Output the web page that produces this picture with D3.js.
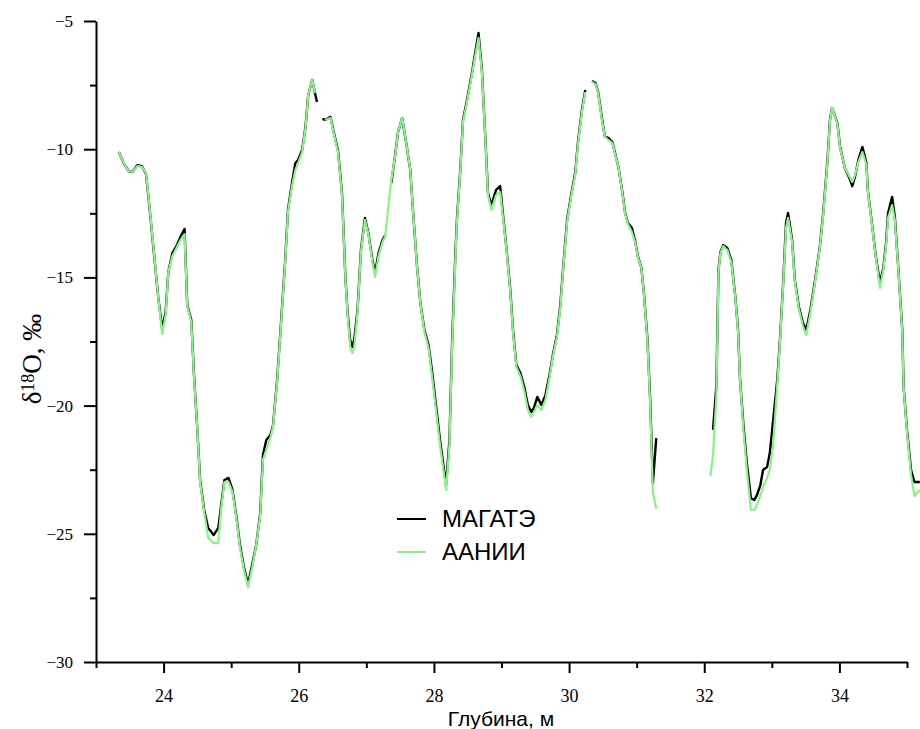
<!DOCTYPE html>
<html>
<head>
<meta charset="utf-8">
<script src="https://cdn.jsdelivr.net/npm/d3@7"></script>
<style>
  body { margin: 0; background: #fff; }
</style>
</head>
<body>
<div id="chart"></div>
<script>
// depth, m
var depth = [23.34,23.40,23.48,23.54,23.61,23.68,23.74,23.80,23.86,23.92,23.98,24.03,24.07,24.13,24.19,24.25,24.31,24.35,24.41,24.45,
  24.50,24.54,24.60,24.66,24.74,24.81,24.85,24.90,24.96,25.02,25.08,25.13,25.19,25.25,25.31,25.37,25.43,25.47,25.52,25.58,
  25.62,25.68,25.74,25.80,25.84,25.90,25.95,25.99,26.05,26.10,26.14,26.20,26.24,26.27,26.30,26.35,26.39,26.47,26.51,26.58,
  26.64,26.69,26.72,26.76,26.79,26.82,26.87,26.92,26.98,27.03,27.09,27.13,27.18,27.24,27.28,27.32,27.37,27.43,27.47,27.53,
  27.59,27.65,27.69,27.75,27.80,27.86,27.92,27.97,28.03,28.09,28.14,28.18,28.23,28.27,28.32,28.34,28.39,28.43,28.49,28.57,
  28.61,28.66,28.71,28.76,28.80,28.85,28.92,28.98,29.03,29.08,29.13,29.17,29.22,29.28,29.34,29.39,29.44,29.48,29.53,29.59,
  29.65,29.71,29.76,29.82,29.87,29.91,29.97,30.03,30.09,30.13,30.19,30.24,30.28,30.34,30.39,30.43,30.49,30.53,30.58,30.64,
  30.68,30.73,30.79,30.83,30.87,30.93,30.98,31.02,31.07,31.11,31.16,31.20,31.24,31.29,31.69,32.09,32.13,32.18,32.21,32.24,
  32.28,32.34,32.40,32.46,32.50,32.53,32.58,32.63,32.69,32.74,32.78,32.83,32.87,32.93,32.97,33.02,33.08,33.12,33.17,33.21,
  33.24,33.30,33.34,33.40,33.46,33.51,33.57,33.64,33.71,33.76,33.82,33.86,33.89,33.97,34.01,34.08,34.16,34.19,34.23,34.28,
  34.34,34.40,34.42,34.48,34.54,34.60,34.65,34.69,34.72,34.78,34.82,34.87,34.93,34.95,35.00,35.06,35.11,35.19];

// МАГАТЭ, d18O permil
var magate = [-10.11,-10.50,-10.85,-10.89,-10.62,-10.66,-10.97,-12.49,-14.13,-15.76,-17.01,-16.35,-14.79,-14.05,-13.78,-13.42,-13.11,-16.08,-16.66,-18.81,
  -20.95,-22.90,-24.07,-24.77,-25.05,-24.77,-23.92,-22.90,-22.82,-23.29,-24.38,-25.44,-26.33,-26.96,-26.22,-25.44,-24.19,-21.93,-21.34,-21.15,
  -20.76,-19.00,-16.66,-14.32,-12.37,-11.32,-10.54,-10.42,-10.03,-9.13,-7.89,-7.30,-7.81,-8.16,null,-8.82,-8.86,-8.74,-9.25,-10.03,
  -11.71,-14.98,-16.27,-17.44,-17.71,-17.44,-16.27,-13.93,-12.68,-13.27,-14.32,-14.83,-14.05,-13.54,-13.35,null,-11.32,-10.15,-9.33,-8.78,
  -9.76,-10.81,-12.37,-14.56,-16.00,-17.05,-17.64,-18.61,-19.98,-21.34,-22.32,-23.10,-21.34,-17.44,-13.93,-12.76,-10.81,-8.86,-8.08,-6.91,
  -6.25,-5.47,-6.91,-9.52,-11.71,-12.18,-11.59,-11.44,-12.76,-14.05,-15.49,-17.05,-18.42,-18.73,-19.31,-19.98,-20.25,-20.09,-19.66,-19.98,
  -19.59,-18.81,-18.03,-17.25,-16.08,-14.71,-12.76,-11.79,-10.93,-9.76,-8.47,-7.69,null,-7.34,-7.42,-7.77,-8.86,-9.52,-9.56,-9.72,
  -10.15,-10.69,-11.71,-12.49,-12.88,-13.07,-13.62,-14.20,-14.63,-15.69,-17.44,-19.78,-23.02,-21.27,null,null,-20.95,-19.20,-14.71,-14.01,
  -13.74,-13.85,-14.32,-15.76,-17.05,-19.00,-20.76,-22.24,-23.60,-23.68,-23.49,-23.10,-22.51,-22.39,-21.85,-20.56,-19.00,-17.44,-15.10,-12.88,
  -12.49,-13.54,-15.10,-16.15,-16.78,-17.05,-16.27,-15.10,-13.81,-12.49,-10.54,-8.86,-8.39,-8.98,-9.91,-10.73,-11.20,-11.44,-11.08,-10.42,
  -9.91,-10.54,-11.59,-12.88,-14.20,-15.22,-14.63,-13.66,-12.49,-11.86,-12.64,-14.59,-17.05,-19.27,-20.95,-22.51,-22.98,-22.98];

// ААНИИ, d18O permil
var aanii = [-10.11,-10.50,-10.85,-10.89,-10.66,-10.69,-10.93,-12.45,-14.09,-15.76,-17.21,-16.47,-14.79,-14.17,-13.85,-13.54,-13.31,-16.12,-16.74,-18.88,
  -20.95,-22.98,-24.15,-25.16,-25.36,-25.36,-24.07,-22.98,-22.98,-23.37,-24.46,-25.55,-26.41,-27.08,-26.33,-25.44,-24.27,-22.12,-21.73,-21.27,
  -20.80,-19.08,-16.74,-14.40,-12.45,-11.44,-10.81,-10.54,-10.11,-9.17,-7.89,-7.30,-7.81,null,null,null,-8.86,-8.78,-9.29,-10.11,
  -11.79,-15.02,-16.35,-17.68,-17.95,-17.75,-16.35,-14.01,-12.76,-13.31,-14.40,-14.98,-14.17,-13.62,-13.39,-12.37,-11.20,-10.19,-9.33,-8.78,
  -9.76,-10.81,-12.37,-14.59,-16.00,-17.13,-17.75,-18.81,-20.17,-21.54,-22.51,-23.29,-21.54,-17.64,-14.13,-12.84,-10.89,-8.94,-8.16,-6.99,
  -6.37,-5.66,-6.99,-9.56,-11.79,-12.37,-11.79,-11.67,-12.84,-14.09,-15.57,-17.13,-18.49,-18.85,-19.47,-20.17,-20.44,-20.25,-19.98,-20.17,
  -19.78,-18.92,-18.10,-17.32,-16.19,-14.79,-12.84,-11.86,-11.01,-9.84,-8.55,-7.77,null,-7.38,-7.46,-7.81,-8.94,-9.52,-9.64,-9.76,
  -10.19,-10.69,-11.75,-12.53,-12.92,-13.23,-13.66,-14.24,-14.63,-15.73,-17.52,-19.98,-23.37,-24.03,null,-22.75,-21.93,-19.59,-14.79,-14.05,
  -13.78,-13.93,-14.40,-15.80,-17.13,-19.00,-20.95,-22.51,-24.07,-24.07,-23.88,-23.49,-23.17,-22.82,-22.51,-21.54,-19.20,-17.52,-15.18,-13.07,
  -12.68,-13.62,-15.18,-16.23,-16.90,-17.25,-16.39,-15.18,-13.85,-12.57,-10.62,-8.90,-8.39,-9.02,-9.95,-10.73,-11.12,-11.28,-11.01,-10.50,
  -10.11,-10.62,-11.63,-12.92,-14.24,-15.41,-14.71,-13.78,-12.68,-12.18,-12.76,-14.63,-17.13,-19.31,-21.03,-22.71,-23.53,-23.29];

var xMajor = [24, 26, 28, 30, 32, 34];
var xMinor = [23, 25, 27, 29, 31, 33, 35];
var yMajor = [-5, -10, -15, -20, -25, -30];
var yMinor = [-7.5, -12.5, -17.5, -22.5, -27.5];
var seriesNames = ["МАГАТЭ", "ААНИИ"];

var width = 920, height = 729;
var green = "#8af28a";
var serif = "'Liberation Serif', 'Times New Roman', serif";
var sans = "'Liberation Sans', Arial, sans-serif";

var svg = d3.select("#chart").append("svg")
    .attr("width", width)
    .attr("height", height)
    .style("display", "block");

var x = d3.scaleLinear().domain([23, 35]).range([96, 907]);
var y = d3.scaleLinear().domain([-5, -30]).range([21, 662]);

var minus = function (d) { return d < 0 ? "\u2212" + Math.abs(d) : String(d); };

// lines first, axes on top
function series(vals) {
  return depth.map(function (d, i) { return { d: d, v: vals[i] }; });
}
var line = d3.line()
    .defined(function (p) { return p.v != null; })
    .x(function (p) { return x(p.d); })
    .y(function (p) { return y(p.v); });

svg.append("path")
    .datum(series(magate))
    .attr("fill", "none")
    .attr("stroke", "#000")
    .attr("stroke-width", 2.4)
    .attr("stroke-linejoin", "round")
    .attr("d", line);

svg.append("path")
    .datum(series(aanii))
    .attr("fill", "none")
    .attr("stroke", green)
    .attr("stroke-width", 2.2)
    .attr("stroke-linejoin", "round")
    .attr("d", line);

// y axis
var gy = svg.append("g").attr("transform", "translate(96,0)");
gy.call(d3.axisLeft(y).tickValues(yMajor).tickSize(12).tickSizeOuter(0).tickPadding(11).tickFormat(minus));
svg.append("g").attr("transform", "translate(96,0)")
    .call(d3.axisLeft(y).tickValues(yMinor).tickSize(6).tickSizeOuter(0).tickFormat(""))
    .select(".domain").remove();

// x axis
var gx = svg.append("g").attr("transform", "translate(0,662)");
gx.call(d3.axisBottom(x).tickValues(xMajor).tickSize(11).tickSizeOuter(0).tickPadding(16).tickFormat(d3.format("d")));
svg.append("g").attr("transform", "translate(0,662)")
    .call(d3.axisBottom(x).tickValues(xMinor).tickSize(6).tickSizeOuter(0).tickFormat(""))
    .select(".domain").remove();

svg.selectAll(".domain, .tick line").attr("stroke", "#000").attr("stroke-width", 2);
gy.attr("font-family", serif).attr("font-size", 17);
gx.attr("font-family", serif).attr("font-size", 18);
svg.selectAll(".tick text").attr("fill", "#000");

// axis titles
var yt = svg.append("text")
    .attr("transform", "translate(41,359) rotate(-90)")
    .attr("text-anchor", "middle")
    .attr("font-family", serif)
    .attr("font-size", 27)
    .attr("fill", "#000");
yt.append("tspan").text("δ");
yt.append("tspan").attr("dy", "-0.4em").attr("font-size", 18).text("18");
yt.append("tspan").attr("dy", "0.27em").text("O, ‰");

svg.append("text")
    .attr("x", 501)
    .attr("y", 726)
    .attr("text-anchor", "middle")
    .attr("font-family", sans)
    .attr("font-size", 21)
    .attr("fill", "#000")
    .text("Глубина, м");

// legend
var colors = ["#000", green];
var leg = svg.append("g").attr("transform", "translate(397,519)");
seriesNames.forEach(function (name, i) {
  var row = leg.append("g").attr("transform", "translate(0," + (i * 33) + ")");
  row.append("line")
      .attr("x1", 0).attr("x2", 29)
      .attr("stroke", colors[i])
      .attr("stroke-width", 2);
  row.append("text")
      .attr("x", 45)
      .attr("y", 8)
      .attr("font-family", sans)
      .attr("font-size", 24)
      .attr("fill", "#000")
      .text(name);
});
</script>
</body>
</html>
